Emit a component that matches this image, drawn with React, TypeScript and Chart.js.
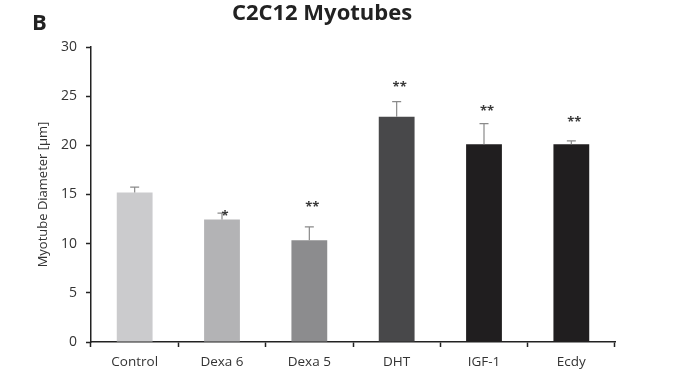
import React, { useEffect, useRef } from "react";
import { Chart, registerables } from "chart.js";

Chart.register(...registerables);

const categories = ["Control", "Dexa 6", "Dexa 5", "DHT", "IGF-1", "Ecdy"];
const diameters = [15.2, 12.45, 10.35, 22.9, 20.1, 20.1];
const errorTops = [15.75, 13.1, 11.7, 24.45, 22.2, 20.45];
const significance = ["", "*", "**", "**", "**", "**"];
const starLevels = [0, 13.1, 14.0, 26.2, 23.8, 22.6];
const barColors = ["#cbcbcd", "#b3b3b5", "#8c8c8e", "#48484a", "#201e1f", "#201e1f"];
const yTicks = [0, 5, 10, 15, 20, 25, 30];

const FONT = "'Open Sans', 'DejaVu Sans', sans-serif";

const overlayPlugin = {
  id: "overlay",
  afterDatasetsDraw(chart: any) {
    const ctx = chart.ctx;
    const meta = chart.getDatasetMeta(0);
    const y = chart.scales.y;
    ctx.save();
    meta.data.forEach((bar: any, i: number) => {
      const x = bar.x;
      const yTop = y.getPixelForValue(diameters[i]);
      const yErr = y.getPixelForValue(errorTops[i]);
      ctx.strokeStyle = "#8a8a8a";
      ctx.lineWidth = 1.2;
      ctx.beginPath();
      ctx.moveTo(x, yTop);
      ctx.lineTo(x, yErr);
      ctx.moveTo(x - 4.5, yErr);
      ctx.lineTo(x + 4.5, yErr);
      ctx.stroke();
      if (significance[i]) {
        ctx.fillStyle = "#3a3a3a";
        ctx.font = `bold 13px ${FONT}`;
        ctx.textAlign = "center";
        ctx.textBaseline = "middle";
        ctx.fillText(significance[i], x + 3, y.getPixelForValue(starLevels[i]) + 3);
      }
    });
    ctx.restore();
  },
  afterDraw(chart: any) {
    const ctx = chart.ctx;
    ctx.save();
    ctx.fillStyle = "#222";
    ctx.textBaseline = "middle";
    ctx.textAlign = "center";
    ctx.font = `bold 22px ${FONT}`;
    ctx.fillText("C2C12 Myotubes", 322, 14);
    ctx.textAlign = "left";
    ctx.font = `bold 22px ${FONT}`;
    ctx.fillText("B", 32, 24);
    ctx.restore();
  },
};

export default function App() {
  const ref = useRef<HTMLCanvasElement>(null);
  useEffect(() => {
    if (!ref.current) return;
    const chart = new Chart(ref.current, {
      type: "bar",
      data: {
        labels: categories,
        datasets: [
          {
            data: diameters,
            backgroundColor: barColors,
            borderWidth: 0,
            categoryPercentage: 1,
            barPercentage: 0.41,
          },
        ],
      },
      options: {
        animation: false,
        responsive: false,
        maintainAspectRatio: false,
        layout: { padding: { top: 47, right: 62, left: 0, bottom: 0 } },
        plugins: { legend: { display: false }, tooltip: { enabled: false } },
        scales: {
          x: {
            afterFit: (s: any) => {
              s.height = 47;
            },
            grid: {
              offset: true,
              drawOnChartArea: false,
              drawTicks: true,
              tickLength: 5,
              color: "#222",
              tickWidth: 1.5,
            },
            border: { color: "#222", width: 1.5 },
            ticks: {
              color: "#333",
              font: { family: FONT, size: 13.5 },
              padding: 7,
            },
          },
          y: {
            min: 0,
            max: 30,
            afterFit: (s: any) => {
              s.width = 91;
            },
            afterBuildTicks: (s: any) => {
              s.ticks = yTicks.map((v) => ({ value: v }));
            },
            grid: {
              drawOnChartArea: false,
              drawTicks: true,
              tickLength: 5,
              color: "#222",
              tickWidth: 1.5,
            },
            border: { color: "#222", width: 1.5 },
            ticks: {
              color: "#333",
              font: { family: FONT, size: 14 },
              padding: 9,
            },
            title: {
              display: true,
              text: "Myotube Diameter [µm]",
              color: "#333",
              font: { family: FONT, size: 13 },
              padding: { top: 35, bottom: 0 },
            },
          },
        },
      },
      plugins: [overlayPlugin],
    });
    return () => chart.destroy();
  }, []);
  return (
    <div style={{ position: "fixed", left: 0, top: 0, width: 677, height: 389, background: "#fff" }}>
      <canvas ref={ref} width={677} height={389} style={{ width: 677, height: 389 }} />
    </div>
  );
}
